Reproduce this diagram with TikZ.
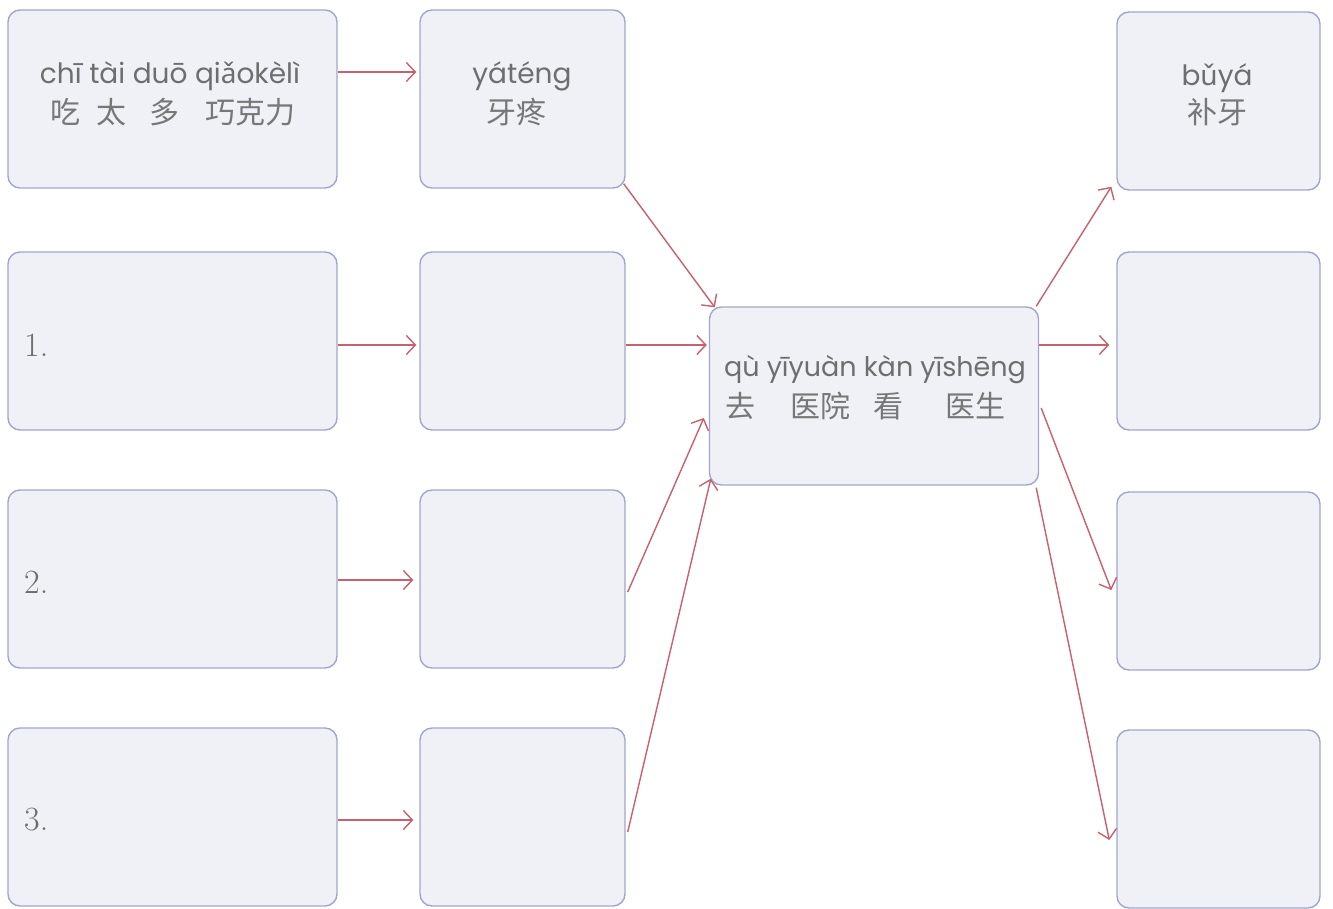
\documentclass[tikz,border=0pt]{standalone}
\usepackage{fontspec}
\usetikzlibrary{arrows.meta}
\newfontfamily\pyfont{Poppins}
\newfontfamily\pyextra{Noto Sans}
\newfontfamily\hzfont{Noto Sans CJK SC}
\definecolor{boxline}{HTML}{A3A6CC}
\definecolor{boxfill}{HTML}{EFF1F7}
\definecolor{linkred}{HTML}{C8606E}
\definecolor{inkgray}{HTML}{6E6E6E}
\definecolor{hzgray}{HTML}{777777}
\tikzset{
  box/.style={draw=boxline, fill=boxfill, line width=1.4pt, rounded corners=12pt, minimum height=178pt, inner sep=0pt},
  wide/.style={box, minimum width=329pt},
  narrow/.style={box, minimum width=205pt},
  pinyin/.style={font=\pyfont\fontsize{28}{30}\selectfont, text=inkgray, inner sep=0pt},
  hanzi/.style={font=\hzfont\fontsize{30}{32}\selectfont, text=hzgray, inner sep=0pt},
  num/.style={font=\fontsize{34}{36}\selectfont, text=inkgray, inner sep=0pt, anchor=west},
  link/.style={draw=linkred, line width=1.4pt, -{Straight Barb[length=9pt,width=19pt,line width=1.4pt]}}
}
\begin{document}
\begin{tikzpicture}[x=1pt, y=-1pt]

% Background
\fill[white] (0,0) rectangle (1333,909);

% Boxes, left column
\node[wide] (l1) at (172.5,99) {};
\node[wide] (l2) at (172.5,341) {};
\node[wide] (l3) at (172.5,579) {};
\node[wide] (l4) at (172.5,817) {};

% Boxes, middle column
\node[narrow] (m1) at (522.5,99) {};
\node[narrow] (m2) at (522.5,341) {};
\node[narrow] (m3) at (522.5,579) {};
\node[narrow] (m4) at (522.5,817) {};

% Centre box
\node[wide] (c) at (874,396) {};

% Boxes, right column
\node[narrow, minimum width=203pt] (r1) at (1218.5,101) {};
\node[narrow, minimum width=203pt] (r2) at (1218.5,341) {};
\node[narrow, minimum width=203pt] (r3) at (1218.5,581) {};
\node[narrow, minimum width=203pt] (r4) at (1218.5,819) {};

% Texts
\node[pinyin] (p1) at (170,76) {chī tài duō qi{\pyextra ǎ}okèlì};
\node[hanzi, anchor=west] (h1) at (50,112) {吃\hspace{16pt}太\hspace{23pt}多\hspace{26pt}巧克力};
\node[pinyin] (p2) at (522,76) {yáténg};
\node[hanzi] (h2) at (516,112) {牙疼};
\node[pinyin, font=\pyfont\fontsize{27}{29}\selectfont] (p3) at (875,370) {qù yīyuàn kàn yīshēng};
\node[hanzi, anchor=west] (h3) at (725,406) {去\hspace{35pt}医院\hspace{23pt}看\hspace{42pt}医生};
\node[pinyin] (p4) at (1217,78) {b{\pyextra ǔ}yá};
\node[hanzi] (h4) at (1217,112) {补牙};
\node[num] (n1) at (24,345) {1.};
\node[num] (n2) at (24,582) {2.};
\node[num] (n3) at (24,820) {3.};

% Arrows, left to middle
\draw[link] ([yshift=27pt]l1.east) -- ([yshift=27pt,xshift=-3pt]m1.west);
\draw[link] ([yshift=-4pt]l2.east) -- ([yshift=-4pt,xshift=-3pt]m2.west);
\draw[link] ([yshift=-1pt]l3.east) -- ([yshift=-1pt,xshift=-6pt]m3.west);
\draw[link] ([yshift=-3pt]l4.east) -- ([yshift=-3pt,xshift=-6pt]m4.west);

% Arrows, middle to centre
\draw[link] ([xshift=-2pt,yshift=5pt]m1.south east) -- ([xshift=6pt,yshift=-1pt]c.north west);
\draw[link] ([yshift=-4pt]m2.east) -- ([yshift=51pt,xshift=-2pt]c.west);
\draw[link] ([xshift=2pt,yshift=-13pt]m3.east) -- ([yshift=-22pt,xshift=-5pt]c.west);
\draw[link] ([xshift=2pt,yshift=-15pt]m4.east) -- ([xshift=2pt,yshift=7pt]c.south west);

% Arrows, centre to right
\draw[link] ([xshift=-3pt]c.north east) -- ([xshift=-5pt,yshift=4pt]r1.south west);
\draw[link] ([yshift=51pt]c.east) -- ([yshift=-4pt,xshift=-7pt]r2.west);
\draw[link] ([xshift=2pt,yshift=-12pt]c.east) -- ([yshift=-9pt,xshift=-5pt]r3.west);
\draw[link] ([xshift=-3pt,yshift=-2pt]c.south east) -- ([yshift=-21pt,xshift=-7pt]r4.west);

\end{tikzpicture}
\end{document}
